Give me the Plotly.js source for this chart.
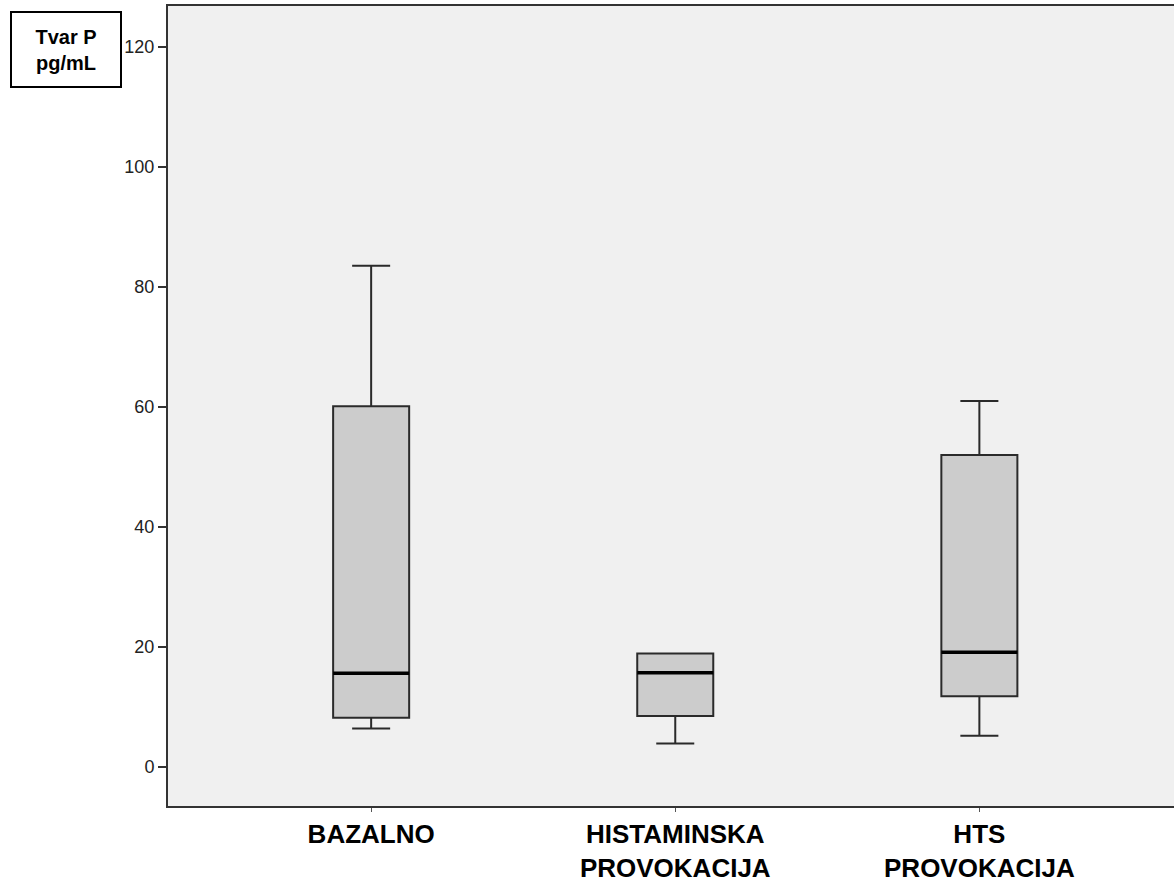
<!DOCTYPE html>
<html>
<head>
<meta charset="utf-8">
<script src="https://cdn.plot.ly/plotly-3.0.1.min.js"></script>
<style>html,body{margin:0;padding:0;background:#fff;}#chart{width:1174px;height:885px;}</style>
</head>
<body>
<div id="chart"></div>
<script>
const categories = ["BAZALNO", "HISTAMINSKA<br>PROVOKACIJA", "HTS<br>PROVOKACIJA"];
const lowerWhisker = [6.4, 3.9, 5.2];
const q1Values = [8.2, 8.5, 11.8];
const medianValues = [15.6, 15.7, 19.1];
const q3Values = [60.1, 18.9, 52.0];
const upperWhisker = [83.5, 18.9, 61.0];
const yTicks = [0, 20, 40, 60, 80, 100, 120];
const yTitle = "Tvar P<br>pg/mL";

const positions = categories.map((c, i) => i);
const boxWidth = 0.25;

const trace = {
  type: 'box',
  x: positions,
  q1: q1Values,
  median: medianValues,
  q3: q3Values,
  lowerfence: lowerWhisker,
  upperfence: upperWhisker,
  width: boxWidth,
  whiskerwidth: 0.5,
  fillcolor: '#cccccc',
  line: {color: '#2a2a2a', width: 2},
  boxpoints: false,
  hoverinfo: 'skip',
  showlegend: false
};

const medianShapes = positions.map((p, i) => ({
  type: 'line', xref: 'x', yref: 'y',
  x0: p - boxWidth / 2, x1: p + boxWidth / 2,
  y0: medianValues[i], y1: medianValues[i],
  line: {color: '#000000', width: 3.5}
}));

const layout = {
  width: 1174, height: 885,
  margin: {l: 168, r: 0, t: 6, b: 79},
  paper_bgcolor: '#ffffff',
  plot_bgcolor: '#f0f0f0',
  showlegend: false,
  font: {family: 'Liberation Sans, Arial, sans-serif', color: '#000'},
  xaxis: {
    range: [-0.668, 2.64],
    tickvals: positions,
    ticktext: categories,
    showgrid: false, zeroline: false,
    showline: true, linecolor: '#333', linewidth: 2, mirror: true,
    ticks: 'outside', ticklen: 4, tickcolor: '#555', tickwidth: 1,
    tickfont: {size: 26, family: 'Liberation Sans, Arial, sans-serif', weight: 'bold', color: '#000'}
  },
  yaxis: {
    range: [-6.5, 126.8],
    tickvals: yTicks,
    showgrid: false, zeroline: false,
    showline: true, linecolor: '#333', linewidth: 2,
    ticks: 'outside', ticklen: 8, tickcolor: '#333', tickwidth: 2,
    tickfont: {size: 18, color: '#222'}
  },
  shapes: medianShapes,
  annotations: [{
    xref: 'paper', yref: 'paper',
    x: (66 - 168) / 1006, y: 1 - (49.5 - 6) / 800,
    xanchor: 'center', yanchor: 'middle',
    text: '<b>' + yTitle + '</b>',
    showarrow: false,
    font: {size: 20, color: '#000'},
    width: 108, height: 73,
    bordercolor: '#000', borderwidth: 2, borderpad: 0,
    bgcolor: '#ffffff'
  }]
};

Plotly.newPlot('chart', [trace], layout, {displayModeBar: false, staticPlot: true});
</script>
</body>
</html>
